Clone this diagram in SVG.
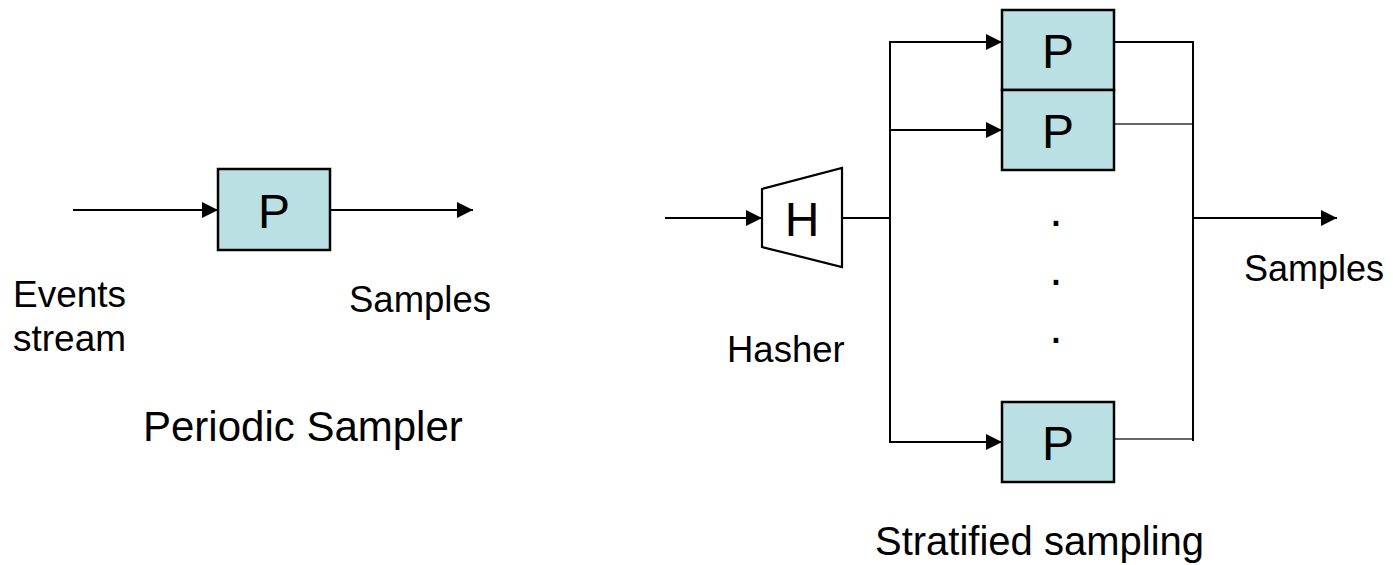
<svg xmlns="http://www.w3.org/2000/svg" width="1393" height="565" viewBox="0 0 1393 565">
<style>
.box{fill:#BBE0E3;stroke:#000;stroke-width:2.5}
.ln{stroke:#000;stroke-width:2;fill:none}
.thin{stroke:#333;stroke-width:1.6;fill:none}
.lbl{font-family:"Liberation Sans",Arial,sans-serif;fill:#000}
.big{font-family:"Liberation Sans",Arial,sans-serif;font-size:48px;fill:#000;text-anchor:middle}
</style>
<defs>
<marker id="arr" markerUnits="userSpaceOnUse" markerWidth="16" markerHeight="16" viewBox="0 0 16 16" refX="16" refY="8" orient="auto">
<path d="M0,0 L16,8 L0,16 z" fill="#000"/>
</marker>
</defs>
<rect width="1393" height="565" fill="#fff"/>
<g id="connectors">
<line class="ln" x1="73" y1="210" x2="218" y2="210" marker-end="url(#arr)"/>
<line class="ln" x1="330" y1="210" x2="473" y2="210" marker-end="url(#arr)"/>
<line class="ln" x1="665" y1="218" x2="762" y2="218" marker-end="url(#arr)"/>
<line class="ln" x1="842" y1="218" x2="890" y2="218"/>
<line class="ln" x1="890" y1="41" x2="890" y2="443"/>
<line class="ln" x1="889" y1="42" x2="1002" y2="42" marker-end="url(#arr)"/>
<line class="ln" x1="889" y1="130" x2="1002" y2="130" marker-end="url(#arr)"/>
<line class="ln" x1="889" y1="442" x2="1002" y2="442" marker-end="url(#arr)"/>
<line class="ln" x1="1114" y1="42" x2="1194" y2="42"/>
<line class="thin" x1="1114" y1="124" x2="1193" y2="124"/>
<line class="thin" x1="1111" y1="439" x2="1193" y2="439"/>
<line class="ln" x1="1193" y1="41" x2="1193" y2="441"/>
<line class="ln" x1="1193" y1="218" x2="1337" y2="218" marker-end="url(#arr)"/>
</g>
<g id="p-left">
<rect class="box" x="218" y="169" width="112" height="81"/>
<text class="big" x="274" y="228">P</text>
</g>
<g id="hasher">
<polygon points="762,189 842,168 842,267 762,247" fill="#fff" stroke="#000" stroke-width="2.2"/>
<text class="big" x="802" y="236" font-size="47">H</text>
</g>
<g id="p1">
<rect class="box" x="1002" y="10" width="112" height="80"/>
<text class="big" x="1058" y="68">P</text>
</g>
<g id="p2">
<rect class="box" x="1002" y="90" width="112" height="80"/>
<text class="big" x="1058" y="148">P</text>
</g>
<g id="p3">
<rect class="box" x="1002" y="402" width="112" height="80"/>
<text class="big" x="1058" y="460">P</text>
</g>
<g id="dots">
<text class="big" x="1056" y="226">.</text>
<text class="big" x="1056" y="284.5">.</text>
<text class="big" x="1056" y="342.5">.</text>
</g>
<g id="labels">
<text class="lbl" x="13" y="307" font-size="37">Events</text>
<text class="lbl" x="13" y="351" font-size="37">stream</text>
<text class="lbl" x="349" y="312" font-size="36.5">Samples</text>
<text class="lbl" x="143" y="441" font-size="42">Periodic Sampler</text>
<text class="lbl" x="727" y="362" font-size="36.5">Hasher</text>
<text class="lbl" x="1244" y="281" font-size="36">Samples</text>
<text class="lbl" x="875" y="555" font-size="40">Stratified sampling</text>
</g>
</svg>
